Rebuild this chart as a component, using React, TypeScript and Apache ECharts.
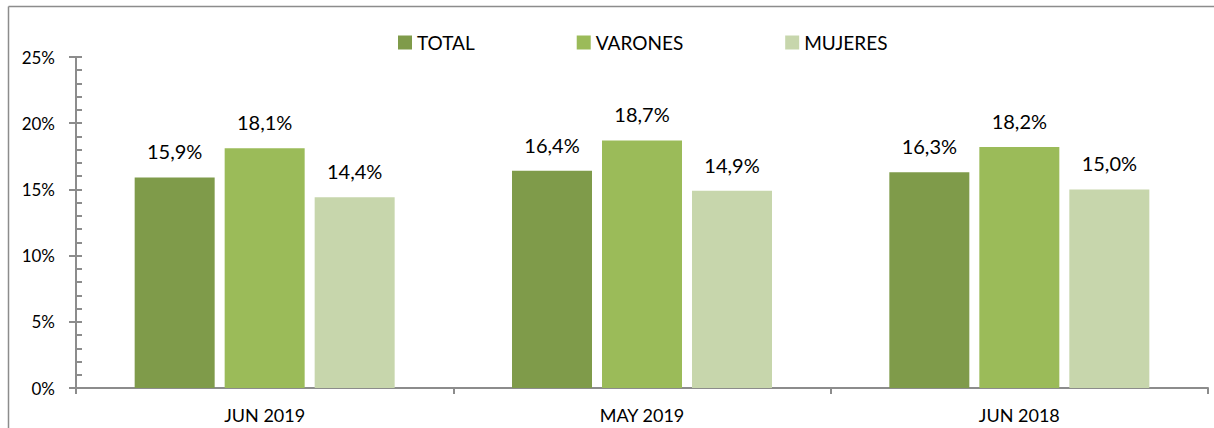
import React, { useEffect, useRef } from "react";
import * as echarts from "echarts";

const categories = ["JUN 2019", "MAY 2019", "JUN 2018"];
const seriesNames = ["TOTAL", "VARONES", "MUJERES"];
const totalValues = [15.9, 16.4, 16.3];
const varonesValues = [18.1, 18.7, 18.2];
const mujeresValues = [14.4, 14.9, 15.0];
const colors = ["#7F9B4A", "#9BBB59", "#C7D6AC"];
const yTicks = { min: 0, max: 25, interval: 5 };

const FONT = "Lato";

export default function App() {
  const ref = useRef<HTMLDivElement>(null);
  useEffect(() => {
    if (!ref.current) return;
    document.documentElement.style.overflow = "hidden";
    document.body.style.overflow = "hidden";
    document.body.style.margin = "0";
    const chart = echarts.init(ref.current, undefined, { renderer: "svg" });
    const values = [totalValues, varonesValues, mujeresValues];
    const axisColor = "#8C8C8C";
    const frameStyle = { stroke: "#8C8C8C", lineWidth: 1.5 };
    chart.setOption({
      animation: false,
      backgroundColor: "#ffffff",
      textStyle: { fontFamily: FONT },
      graphic: [
        {
          type: "line",
          shape: { x1: 8.5, y1: 6.5, x2: 1214, y2: 6.5 },
          style: frameStyle,
          silent: true,
        },
        {
          type: "line",
          shape: { x1: 8.5, y1: 6.5, x2: 8.5, y2: 428 },
          style: frameStyle,
          silent: true,
        },
      ],
      legend: {
        top: 28,
        left: 393,
        itemWidth: 14,
        itemHeight: 14,
        itemGap: 102,
        icon: "rect",
        textStyle: { fontFamily: FONT, fontSize: 19, color: "#000" },
        data: seriesNames,
      },
      grid: { left: 76, right: 6, top: 57, bottom: 40 },
      xAxis: {
        type: "category",
        data: categories,
        axisLine: { lineStyle: { color: axisColor, width: 2 } },
        axisTick: { show: true, length: 6, lineStyle: { color: axisColor, width: 2 } },
        axisLabel: { fontFamily: FONT, fontSize: 18, color: "#000", margin: 18 },
      },
      yAxis: [
        {
          type: "value",
          min: yTicks.min,
          max: yTicks.max,
          interval: yTicks.interval,
          splitLine: { show: false },
          axisLine: { show: true, lineStyle: { color: axisColor, width: 2 } },
          axisTick: { show: true, length: 7, lineStyle: { color: axisColor, width: 2 } },
          axisLabel: {
            fontFamily: FONT,
            fontSize: 17,
            color: "#000",
            margin: 21,
            formatter: (v: number) => `${v}%`,
          },
        },
        {
          type: "value",
          position: "left",
          min: yTicks.min,
          max: yTicks.max,
          interval: yTicks.interval,
          splitLine: { show: false },
          axisLine: { show: false },
          axisLabel: { show: false },
          axisTick: { show: true, inside: true, length: 6, lineStyle: { color: axisColor, width: 2 } },
          minorTick: { show: true, splitNumber: 5, length: 6, lineStyle: { color: axisColor, width: 2 } },
        },
      ],
      series: seriesNames.map((name, i) => ({
        name,
        type: "bar",
        data: values[i],
        barWidth: 80,
        barGap: "12.5%",
        itemStyle: { color: colors[i] },
        label: {
          show: true,
          position: "top",
          distance: 16,
          fontFamily: FONT,
          fontSize: 20,
          color: "#000",
          formatter: (p: any) => `${p.value.toFixed(1).replace(".", ",")}%`,
        },
      })),
    });
    return () => chart.dispose();
  }, []);
  return (
    <div
      ref={ref}
      style={{ position: "absolute", left: 0, top: 0, width: 1214, height: 428 }}
    />
  );
}
